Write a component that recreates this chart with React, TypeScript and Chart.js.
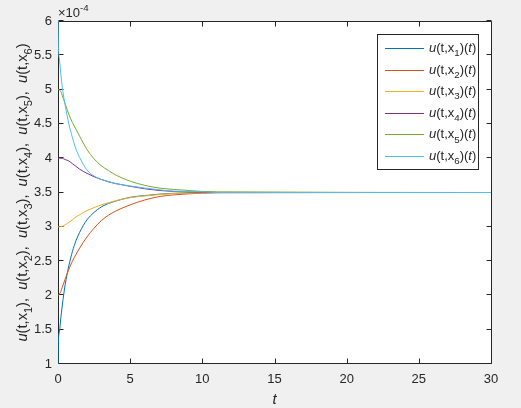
import React, { useEffect, useRef } from "react";
import { Chart, registerables } from "chart.js";

Chart.register(...registerables);

// time points (t)
const tValues = [0, 0.02, 0.1, 0.2, 0.3, 0.4, 0.5, 0.75, 1, 1.25, 1.5, 2, 2.5, 3, 3.5, 4, 5, 6, 7, 8, 9, 10, 11, 30];

// values in units of 1e-4
const u1 = [1.0, 1.3, 1.47, 1.68, 1.86, 2.02, 2.16, 2.43, 2.64, 2.8, 2.92, 3.1, 3.21, 3.29, 3.34, 3.375, 3.43, 3.455, 3.475, 3.488, 3.494, 3.498, 3.5, 3.5];
const u2 = [2.0, 2.0, 2.02, 2.06, 2.12, 2.18, 2.24, 2.38, 2.5, 2.6, 2.69, 2.85, 2.98, 3.09, 3.17, 3.23, 3.32, 3.39, 3.44, 3.465, 3.48, 3.49, 3.495, 3.5];
const u3 = [3.0, 3.0, 3.0, 3.003, 3.008, 3.018, 3.03, 3.065, 3.1, 3.145, 3.175, 3.235, 3.28, 3.32, 3.35, 3.38, 3.425, 3.45, 3.47, 3.485, 3.49, 3.495, 3.5, 3.5];
const u4 = [4.0, 4.0, 4.0, 4.0, 3.998, 3.99, 3.98, 3.96, 3.92, 3.88, 3.84, 3.78, 3.73, 3.69, 3.655, 3.63, 3.59, 3.555, 3.53, 3.515, 3.51, 3.505, 3.5, 3.5];
const u5 = [5.0, 5.0, 4.995, 4.97, 4.91, 4.85, 4.79, 4.64, 4.52, 4.42, 4.32, 4.13, 3.99, 3.89, 3.82, 3.755, 3.665, 3.605, 3.565, 3.545, 3.53, 3.515, 3.51, 3.5];
const u6 = [6.0, 5.68, 5.45, 5.22, 5.03, 4.89, 4.77, 4.5, 4.3, 4.13, 4.01, 3.83, 3.74, 3.69, 3.66, 3.63, 3.595, 3.565, 3.54, 3.52, 3.515, 3.51, 3.5, 3.5];

const seriesValues = [u1, u2, u3, u4, u5, u6];
const seriesIndex = ["1", "2", "3", "4", "5", "6"];
const seriesColors = ["#0072BD", "#D95319", "#EDB120", "#7E2F8E", "#77AC30", "#4DBEEE"];

const xTicks = [0, 5, 10, 15, 20, 25, 30];
const yTicks = [1, 1.5, 2, 2.5, 3, 3.5, 4, 4.5, 5, 5.5, 6];
const xTitle = "t";
const exponentBase = "×10";
const exponentPower = "-4";

const FONT = '"Liberation Sans", Arial, Helvetica, sans-serif';
const TEXT = "#262626";
const LABEL_SIZE = 14.67;

type Seg = { t: string; it?: boolean; sub?: boolean; sup?: boolean };

function segFont(s: Seg, size: number) {
  const sz = s.sub || s.sup ? size * 0.75 : size;
  return `${s.it ? "italic " : ""}${sz}px ${FONT}`;
}
function measureRich(ctx: CanvasRenderingContext2D, segs: Seg[], size: number) {
  let w = 0;
  for (const s of segs) {
    ctx.font = segFont(s, size);
    w += ctx.measureText(s.t).width;
  }
  return w;
}
function drawRich(ctx: CanvasRenderingContext2D, segs: Seg[], x: number, y: number, size: number) {
  for (const s of segs) {
    ctx.font = segFont(s, size);
    const dy = s.sub ? size * 0.32 : s.sup ? -size * 0.45 : 0;
    ctx.fillText(s.t, x, y + dy);
    x += ctx.measureText(s.t).width;
  }
}
function uSegs(idx: string): Seg[] {
  return [{ t: "u", it: true }, { t: "(t,x" }, { t: idx, sub: true }, { t: ")" }];
}
function legendSegs(idx: string): Seg[] {
  return [...uSegs(idx), { t: "(" }, { t: "t", it: true }, { t: ")" }];
}
function yTitleSegs(): Seg[] {
  const out: Seg[] = [];
  seriesIndex.forEach((idx, i) => {
    if (i > 0) out.push({ t: ",  " });
    out.push(...uSegs(idx));
  });
  return out;
}

const decorPlugin = {
  id: "decor",
  beforeDatasetsDraw(chart: any) {
    const ctx: CanvasRenderingContext2D = chart.ctx;
    const { left, right, top, bottom } = chart.chartArea;
    const xs = chart.scales.x;
    const ys = chart.scales.y;
    ctx.save();
    const L = Math.round(left) + 0.5;
    const R = Math.round(right) + 0.5;
    const T = Math.round(top) + 0.5;
    const B = Math.round(bottom) - 0.5;
    ctx.fillStyle = "#ffffff";
    ctx.fillRect(L, T, R - L, B - T);
    ctx.strokeStyle = TEXT;
    ctx.lineWidth = 1;
    ctx.beginPath();
    ctx.rect(L, T, R - L, B - T);
    ctx.stroke();
    const tl = 5;
    ctx.beginPath();
    for (const v of xTicks) {
      const px = Math.round(xs.getPixelForValue(v)) + 0.5;
      ctx.moveTo(px, B);
      ctx.lineTo(px, B - tl);
      ctx.moveTo(px, T);
      ctx.lineTo(px, T + tl);
    }
    for (const v of yTicks) {
      const py = Math.round(ys.getPixelForValue(v)) - 0.5;
      ctx.moveTo(L, py);
      ctx.lineTo(L + tl, py);
      ctx.moveTo(R, py);
      ctx.lineTo(R - tl, py);
    }
    ctx.stroke();
    ctx.restore();
  },
  afterDraw(chart: any) {
    const ctx: CanvasRenderingContext2D = chart.ctx;
    const { left, right, top, bottom } = chart.chartArea;
    ctx.save();
    // legend
    const lx = 377.5, ly = 34.5, lw = 101, lh = 135;
    ctx.fillStyle = "#ffffff";
    ctx.fillRect(lx, ly, lw, lh);
    ctx.strokeStyle = TEXT;
    ctx.lineWidth = 1;
    ctx.strokeRect(lx, ly, lw, lh);
    ctx.textBaseline = "alphabetic";
    ctx.textAlign = "left";
    seriesIndex.forEach((idx, i) => {
      const yy = 48 + i * 21.6;
      ctx.strokeStyle = seriesColors[i];
      ctx.lineWidth = 1;
      ctx.beginPath();
      ctx.moveTo(385, Math.round(yy) + 0.5);
      ctx.lineTo(424, Math.round(yy) + 0.5);
      ctx.stroke();
      ctx.fillStyle = TEXT;
      drawRich(ctx, legendSegs(idx), 429, yy + 4, 13);
    });

    // x title
    ctx.fillStyle = TEXT;
    ctx.font = `italic ${LABEL_SIZE}px ${FONT}`;
    ctx.textAlign = "center";
    ctx.fillText(xTitle, (left + right) / 2, 404);

    // exponent
    ctx.textAlign = "left";
    drawRich(ctx, [{ t: exponentBase }, { t: exponentPower, sup: true }], 58, 17, 13);

    // y title (rotated)
    const segs = yTitleSegs();
    const w = measureRich(ctx, segs, LABEL_SIZE);
    ctx.translate(27, (top + bottom) / 2);
    ctx.rotate(-Math.PI / 2);
    drawRich(ctx, segs, -w / 2, 0, LABEL_SIZE);
    ctx.restore();
  },
};

export default function App() {
  const ref = useRef<HTMLCanvasElement | null>(null);
  useEffect(() => {
    document.body.style.margin = "0";
    document.body.style.background = "#f0f0f0";
    const canvas = ref.current!;
    const chart = new Chart(canvas, {
      type: "line",
      data: {
        datasets: seriesValues.map((vals, i) => ({
          label: `u(t,x${seriesIndex[i]})(t)`,
          data: tValues.map((t, k) => ({ x: t, y: vals[k] })),
          borderColor: seriesColors[i],
          backgroundColor: seriesColors[i],
          borderWidth: 1,
          pointRadius: 0,
          cubicInterpolationMode: "monotone" as const,
          fill: false,
          order: seriesValues.length - i,
        })),
      },
      options: {
        responsive: false,
        animation: false,
        devicePixelRatio: 1,
        layout: { padding: { top: 21, right: 30, left: 0, bottom: 0 } },
        plugins: { legend: { display: false }, tooltip: { enabled: false } },
        scales: {
          x: {
            type: "linear",
            min: 0,
            max: 30,
            afterFit: (s: any) => {
              s.height = 44;
            },
            afterBuildTicks: (s: any) => {
              s.ticks = xTicks.map((v) => ({ value: v }));
            },
            grid: { display: false, drawTicks: false },
            border: { display: false },
            ticks: {
              padding: 8,
              color: TEXT,
              font: { family: FONT, size: 13 },
              maxRotation: 0,
              callback: (v: any) => String(v),
            },
          },
          y: {
            type: "linear",
            min: 1,
            max: 6,
            afterFit: (s: any) => {
              s.width = 58;
            },
            afterBuildTicks: (s: any) => {
              s.ticks = yTicks.map((v) => ({ value: v }));
            },
            grid: { display: false, drawTicks: false },
            border: { display: false },
            ticks: {
              padding: 6,
              color: TEXT,
              font: { family: FONT, size: 13 },
              callback: (v: any) => String(v),
            },
          },
        },
      },
      plugins: [decorPlugin],
    });
    return () => chart.destroy();
  }, []);
  return (
    <div style={{ position: "fixed", left: 0, top: 0, width: 521, height: 408, background: "#f0f0f0" }}>
      <canvas ref={ref} width={521} height={408} style={{ width: 521, height: 408, display: "block" }} />
    </div>
  );
}
